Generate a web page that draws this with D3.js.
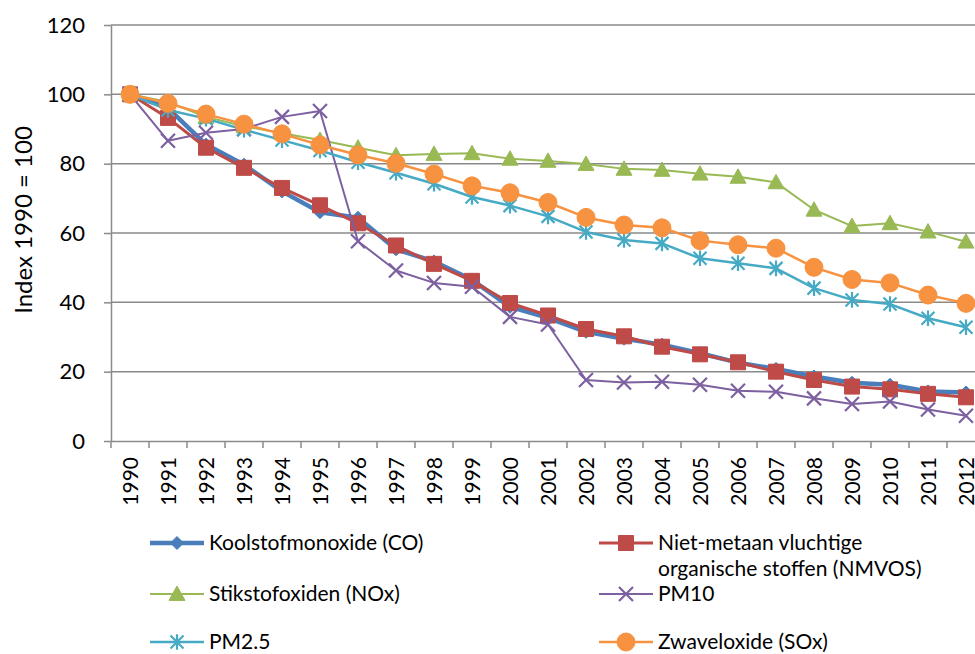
<!DOCTYPE html>
<html>
<head>
<meta charset="utf-8">
<script src="https://cdn.jsdelivr.net/npm/d3@7"></script>
<style>
  html, body { margin: 0; padding: 0; background: #fff; }
  svg { display: block; font-family: Lato, "Open Sans", sans-serif; }
</style>
</head>
<body>
<div id="chart"></div>
<script>
const years = ["1990","1991","1992","1993","1994","1995","1996","1997","1998","1999","2000","2001","2002","2003","2004","2005","2006","2007","2008","2009","2010","2011","2012"]
const yTicks = [0, 20, 40, 60, 80, 100, 120]

const co    = [100, 96, 85.5, 79.7, 72, 66, 64.4, 55.3, 51.8, 46.5, 38.7, 35.5, 31.5, 29.5, 27.8, 25.3, 22.6, 20.8, 18.6, 16.8, 16.2, 14.3, 14]
const nmvos = [100, 93.2, 84.6, 78.8, 73, 68, 62.8, 56.4, 51.1, 46.2, 39.8, 36.2, 32.3, 30.2, 27.2, 25, 22.7, 20, 17.6, 15.7, 14.9, 13.6, 12.6]
const nox   = [100, 97.8, 93.5, 90.8, 88.8, 86.8, 84.6, 82.4, 82.8, 83, 81.4, 80.8, 79.9, 78.5, 78.2, 77.1, 76.2, 74.6, 66.7, 62, 62.8, 60.4, 57.5]
const pm10  = [100, 86.6, 88.9, 90, 93.5, 95.2, 57.6, 49.2, 45.6, 44.5, 35.8, 33.6, 17.6, 16.9, 17.1, 16.2, 14.5, 14.2, 12.3, 10.7, 11.4, 9.1, 7.3]
const pm25  = [100, 95.5, 93, 89.8, 86.8, 83.8, 80.4, 77.4, 74.2, 70.4, 67.9, 64.8, 60.3, 58, 57, 52.7, 51.3, 49.8, 44.1, 40.7, 39.5, 35.4, 32.8]
const sox   = [100, 97.4, 94.3, 91.4, 88.6, 85.4, 82.5, 80.1, 77, 73.6, 71.6, 68.8, 64.5, 62.3, 61.5, 57.8, 56.6, 55.6, 50.1, 46.6, 45.6, 42.1, 39.7]

const seriesNames = ["Koolstofmonoxide (CO)", "Niet-metaan vluchtige organische stoffen (NMVOS)", "Stikstofoxiden (NOx)", "PM10", "PM2.5", "Zwaveloxide (SOx)"]

// marker shapes, s = half size
const shapes = {
  diamond: s => `M0,${-s}L${s},0L0,${s}L${-s},0Z`,
  square: s => `M${-s},${-s}H${s}V${s}H${-s}Z`,
  triangle: s => `M0,${-s}L${s},${s * 0.8}L${-s},${s * 0.8}Z`,
  cross: s => `M${-s},${-s}L${s},${s}M${s},${-s}L${-s},${s}`,
  star: s => `M${-s},${-s}L${s},${s}M${s},${-s}L${-s},${s}M0,${-s * 1.2}V${s * 1.2}`,
  circle: s => `M${s},0A${s},${s} 0 1,1 ${-s},0A${s},${s} 0 1,1 ${s},0Z`
}

const series = [
  { name: seriesNames[0], values: co,    color: "#4A7EBB", lw: 4.5, shape: "diamond",  ms: 6.5, fill: true },
  { name: seriesNames[1], values: nmvos, color: "#BE4B48", lw: 3,   shape: "square",   ms: 7.5, fill: true },
  { name: seriesNames[2], values: nox,   color: "#98B954", lw: 2,   shape: "triangle", ms: 8,   fill: true },
  { name: seriesNames[3], values: pm10,  color: "#7D60A0", lw: 2,   shape: "cross",    ms: 7,   fill: false },
  { name: seriesNames[4], values: pm25,  color: "#46AAC5", lw: 2.5, shape: "star",     ms: 6.5, fill: false },
  { name: seriesNames[5], values: sox,   color: "#F69240", lw: 2.5, shape: "circle",   ms: 9,   fill: true }
]

const W = 975, H = 654
const margin = { top: 25, left: 111 }
const plotRight = 985, plotBottom = 441

const svg = d3.select("#chart").append("svg")
  .attr("width", W).attr("height", H)

const x = d3.scaleBand().domain(years).range([margin.left, plotRight])
const y = d3.scaleLinear().domain([0, 120]).range([plotBottom, margin.top])
const cx = d => x(d) + x.bandwidth() / 2

// gridlines
svg.append("g").selectAll("line").data(yTicks.filter(t => t > 0)).enter().append("line")
  .attr("x1", margin.left).attr("x2", plotRight)
  .attr("y1", d => y(d)).attr("y2", d => y(d))
  .attr("stroke", "#8a8a8a").attr("stroke-width", 1.5)

// y axis
const yAxis = svg.append("g").attr("transform", `translate(${margin.left},0)`)
  .call(d3.axisLeft(y).tickValues(yTicks).tickSize(7).tickSizeOuter(0))
yAxis.select(".domain").attr("stroke", "#8a8a8a").attr("stroke-width", 1.5)
yAxis.selectAll(".tick line").attr("stroke", "#8a8a8a").attr("stroke-width", 1.5)
yAxis.selectAll(".tick text").attr("x", -26).attr("font-size", 22).attr("fill", "#000")
  .attr("font-family", "Lato, sans-serif")

// x axis
const xAxis = svg.append("g").attr("transform", `translate(0,${plotBottom})`)
  .call(d3.axisBottom(x).tickSize(0).tickSizeOuter(0))
xAxis.select(".domain").attr("stroke", "#8a8a8a").attr("stroke-width", 1.5)
xAxis.selectAll(".tick text")
  .attr("transform", "rotate(-90)")
  .attr("x", -16).attr("y", 0).attr("dy", "0.36em")
  .attr("text-anchor", "end").attr("font-size", 21).attr("fill", "#000")
  .attr("font-family", "Lato, sans-serif")
// boundary ticks between categories
svg.append("g").selectAll("line").data(years).enter().append("line")
  .attr("x1", d => x(d)).attr("x2", d => x(d))
  .attr("y1", plotBottom).attr("y2", plotBottom + 7)
  .attr("stroke", "#8a8a8a").attr("stroke-width", 1.5)

// y axis title
svg.append("text")
  .attr("transform", `translate(32,${(margin.top + plotBottom) / 2 - 13}) rotate(-90)`)
  .attr("text-anchor", "middle")
  .attr("font-size", 24)
  .text("Index 1990 = 100")

// series
const line = d3.line().x((d, i) => cx(years[i])).y(d => y(d))

function drawMarker(g, s, px, py) {
  g.append("path")
    .attr("transform", `translate(${px},${py})`)
    .attr("d", shapes[s.shape](s.ms))
    .attr("fill", s.fill ? s.color : "none")
    .attr("stroke", s.color)
    .attr("stroke-width", s.fill ? 1 : 2.2)
}

series.forEach(s => {
  const g = svg.append("g")
  g.append("path").datum(s.values)
    .attr("d", line)
    .attr("fill", "none")
    .attr("stroke", s.color)
    .attr("stroke-width", s.lw)
    .attr("stroke-linejoin", "round")
  s.values.forEach((v, i) => drawMarker(g, s, cx(years[i]), y(v)))
})

// legend
const legendPos = [
  { x: 150, y: 543 }, { x: 599, y: 543 },
  { x: 150, y: 594 }, { x: 599, y: 594 },
  { x: 150, y: 642 }, { x: 599, y: 642 }
]
series.forEach((s, i) => {
  const p = legendPos[i]
  const g = svg.append("g").attr("transform", `translate(${p.x},${p.y})`)
  g.append("line").attr("x1", 0).attr("x2", 54).attr("y1", 0).attr("y2", 0)
    .attr("stroke", s.color).attr("stroke-width", s.lw)
  drawMarker(g, s, 27, 0)
  const t = g.append("text").attr("x", 59).attr("y", 0).attr("dy", "0.35em")
    .attr("font-size", 21)
  if (i === 1) {
    t.text("Niet-metaan vluchtige")
    g.append("text").attr("x", 59).attr("y", 26).attr("dy", "0.35em")
      .attr("font-size", 21).text("organische stoffen (NMVOS)")
  } else {
    t.text(s.name)
  }
})
</script>
</body>
</html>
